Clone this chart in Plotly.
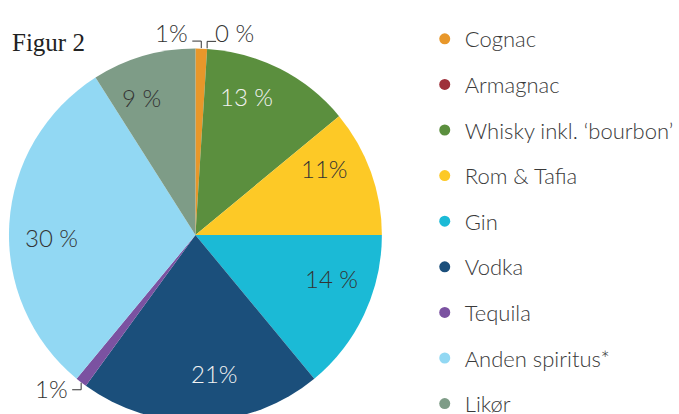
import math
import plotly.graph_objects as go

# ---- data ----
categories = ["Cognac", "Armagnac", "Whisky inkl. ‘bourbon’", "Rom & Tafia", "Gin",
              "Vodka", "Tequila", "Anden spiritus*", "Likør"]
shares = [1, 0, 13, 11, 14, 21, 1, 30, 9]
share_labels = ["1%", "0 %", "13 %", "11%", "14 %", "21%", "1%", "30 %", "9 %"]
colors = ["#E8972A", "#9E2F3A", "#5B8F3E", "#FDC926", "#1BBAD6",
          "#1B4F7B", "#7B52A1", "#92D8F3", "#7E9C87"]
label_colors = ["#333333", "#333333", "#F2F2F2", "#333333", "#333333",
                "#F2F2F2", "#333333", "#333333", "#333333"]
outside = [True, True, False, False, False, False, True, False, False]

W, H = 679, 430
CX, CY, R = 196, 235, 187

fig = go.Figure()
fig.add_trace(go.Pie(
    labels=categories, values=shares, sort=False, direction="clockwise", rotation=0,
    marker=dict(colors=colors, line=dict(width=0)),
    textinfo="none", hoverinfo="label+percent", showlegend=False,
    domain=dict(x=[(CX - R) / W, (CX + R) / W], y=[1 - (CY + R) / H, 1 - (CY - R) / H]),
))

# legend entries as circle markers
for c, col in zip(categories, colors):
    fig.add_trace(go.Scatter(x=[None], y=[None], mode="markers", name=c, legendgroup=c,
                             marker=dict(color=col, size=11, symbol="circle")))

def px2paper(x, y):
    return x / W, 1 - y / H

font_fam = "Lato"
total = sum(shares)
cum = 0
annotations = []
shapes = []
for i, v in enumerate(shares):
    start = cum / total
    cum += v
    mid = (start + cum / total) / 2
    ang = 2 * math.pi * mid
    if not outside[i]:
        rr = 0.77 * R
        a2 = ang - math.radians(6)
        x = CX + rr * math.sin(a2)
        y = CY - rr * math.cos(a2) - 4
        px, py = px2paper(x, y)
        annotations.append(dict(x=px, y=py, xref="paper", yref="paper", text=share_labels[i],
                                showarrow=False, xanchor="center", yanchor="middle",
                                font=dict(family=font_fam, size=24, color=label_colors[i], weight=300)))
    else:
        if v == 0:
            ang = 2 * math.pi * start
        x0 = CX + R * math.sin(ang)
        y0 = CY - R * math.cos(ang)
        top = y0 < CY
        dy = -7 if top else 7
        left = math.sin(ang) < 0 or (top and v > 0)
        dx = -9 if left else 9
        pts = [(x0, y0), (x0, y0 + dy), (x0 + dx, y0 + dy)]
        path = "M " + " L ".join(f"{px2paper(a, b)[0]},{px2paper(a, b)[1]}" for a, b in pts)
        shapes.append(dict(type="path", path=path, xref="paper", yref="paper",
                           line=dict(color="#333333", width=1)))
        tx, ty = px2paper(x0 + dx + (-2 if left else -3), y0 + dy + (-9 if top else -1))
        annotations.append(dict(x=tx, y=ty, xref="paper", yref="paper", text=share_labels[i],
                                showarrow=False, xanchor="right" if left else "left", yanchor="middle",
                                font=dict(family=font_fam, size=24, color="#333333", weight=300)))

fx, fy = px2paper(10, 43)
annotations.append(dict(x=fx, y=fy, xref="paper", yref="paper", text="Figur 2", showarrow=False,
                        xanchor="left", yanchor="middle",
                        font=dict(family="Liberation Serif", size=25, color="#222222")))

fig.update_layout(
    width=W, height=H,
    margin=dict(l=0, r=0, t=0, b=0),
    paper_bgcolor="white", plot_bgcolor="white",
    xaxis=dict(visible=False), yaxis=dict(visible=False),
    showlegend=True,
    legend=dict(x=426 / W, y=1 - 18 / H, xanchor="left", yanchor="top",
                font=dict(family=font_fam, size=22, color="#3A3A3A", weight=300),
                tracegroupgap=14, bgcolor="rgba(0,0,0,0)", itemclick=False, itemdoubleclick=False),
    annotations=annotations, shapes=shapes,
)

fig.write_html("out.html", config={"displayModeBar": False},
               post_script="document.body.style.margin='0';document.body.style.overflow='hidden';"
                           "document.documentElement.style.overflow='hidden';")
